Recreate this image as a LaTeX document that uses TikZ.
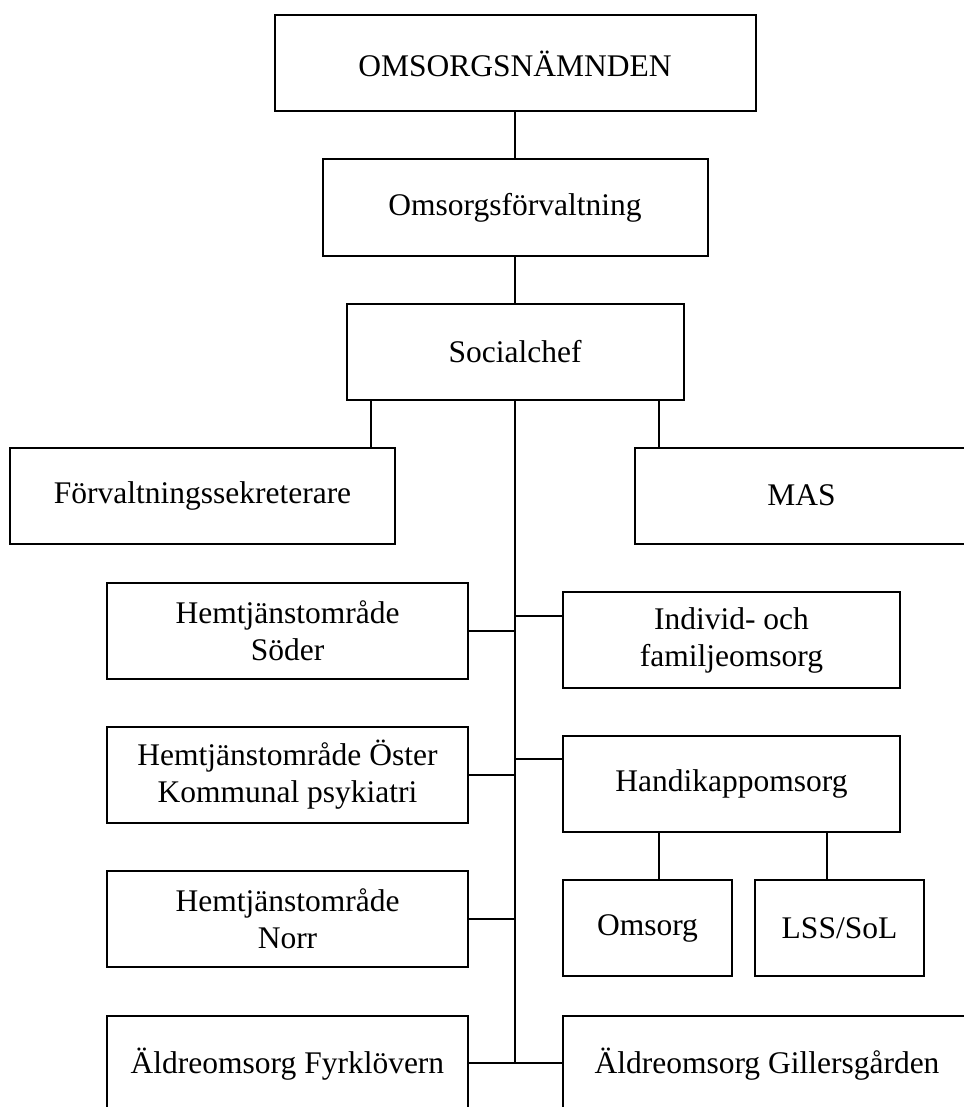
\documentclass[tikz,border=0pt]{standalone}
\usepackage{fontspec}
\setmainfont{Liberation Serif}
\usepackage{tikz}
\usetikzlibrary{positioning}
\tikzset{unit/.style = {draw, line width = 2pt, inner sep = 0, align = center,
                        minimum height = 96, font = \fontsize{31.5}{37}\selectfont}}
\tikzset{link/.style = {line width = 2pt}}

\begin{document}
\begin{tikzpicture}[x=1pt, y=-1pt]
    \useasboundingbox (0, 0) rectangle (963, 1107);

    \node [unit, minimum width = 481] (namnd) at (515, 63.5) {OMSORGSNÄMNDEN};
    \node [unit, minimum width = 385] (forvaltning) at (515, 207.5) {Omsorgsförvaltning};
    \node [unit, minimum width = 337] (social) at (515, 352) {Socialchef};

    \node [unit, minimum width = 385] (sekr) at (202.5, 495.5) {Förvaltningssekreterare};
    \node [unit, minimum width = 333] (mas) at (801.5, 495.5) {MAS};

    \node [unit, minimum width = 361] (soder) at (287.5, 631) {Hemtjänstområde\\Söder};
    \node [unit, minimum width = 361] (oster) at (287.5, 775) {Hemtjänstområde Öster\\Kommunal psykiatri};
    \node [unit, minimum width = 361] (norr) at (287.5, 919) {Hemtjänstområde\\Norr};
    \node [unit, minimum width = 361] (fyrklovern) at (287.5, 1064) {Äldreomsorg Fyrklövern};

    \node [unit, minimum width = 337] (ifo) at (731.5, 640) {Individ- och\\familjeomsorg};
    \node [unit, minimum width = 337] (handikapp) at (731.5, 784) {Handikappomsorg};
    \node [unit, minimum width = 169] (omsorg) at (647.5, 928) {Omsorg};
    \node [unit, minimum width = 169] (lss) at (839.5, 928) {LSS/SoL};
    \node [unit, minimum width = 408] (gillers) at (767, 1064) {Äldreomsorg Gillersgården};

    \coordinate (trunkend) at (515, 1063);

    \draw [link] (namnd) -- (forvaltning);
    \draw [link] (forvaltning) -- (social);
    \draw [link] (social.south) -- (trunkend);

    \draw [link] ([xshift=-144pt]social.south) -- ([xshift=-144pt]social.south |- sekr.north);
    \draw [link] ([xshift=144pt]social.south) -- ([xshift=144pt]social.south |- mas.north);

    \draw [link] (soder.east) -- (soder.east -| trunkend);
    \draw [link] (oster.east) -- (oster.east -| trunkend);
    \draw [link] (norr.east) -- (norr.east -| trunkend);
    \draw [link] (fyrklovern.east |- trunkend) -- (trunkend) -- (gillers.west |- trunkend);

    \draw [link] ([yshift=24pt]ifo.west) -- ([yshift=24pt]ifo.west -| trunkend);
    \draw [link] ([yshift=25pt]handikapp.west) -- ([yshift=25pt]handikapp.west -| trunkend);

    \draw [link] ([xshift=-72.5pt]handikapp.south) -- ([xshift=-72.5pt]handikapp.south |- omsorg.north);
    \draw [link] ([xshift=95.5pt]handikapp.south) -- ([xshift=95.5pt]handikapp.south |- lss.north);
  \end{tikzpicture}
\end{document}
